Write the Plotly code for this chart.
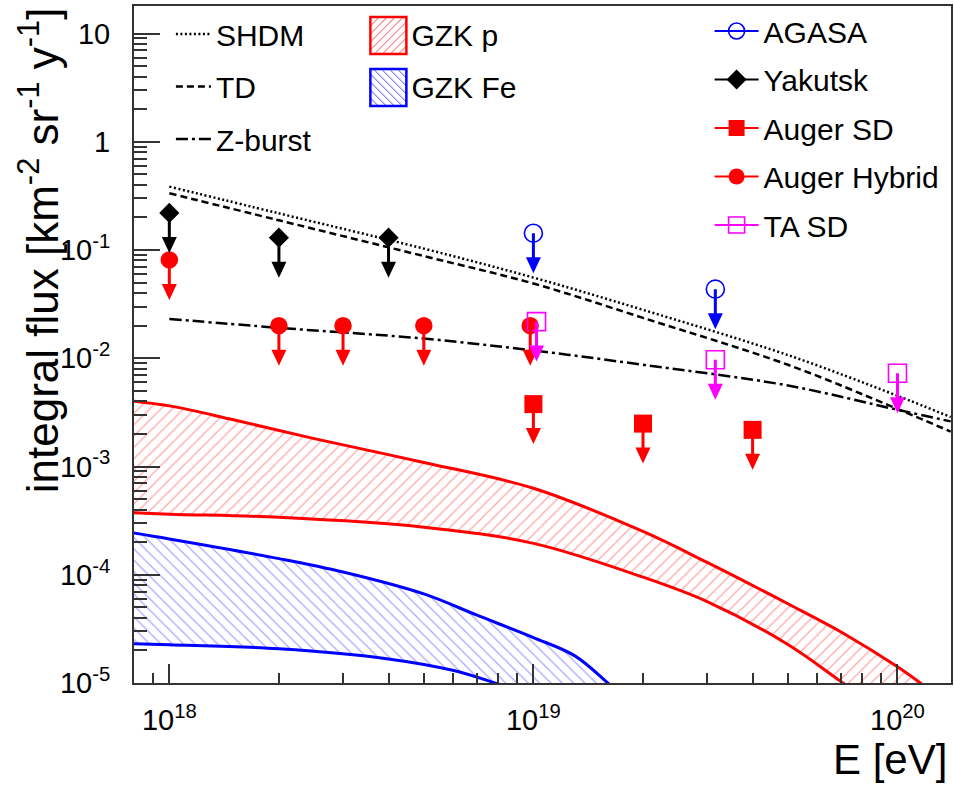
import numpy as np
import plotly.graph_objects as go

# ---------------------------------------------------------------------------
# Model predictions for the integral photon flux  [km^-2 sr^-1 y^-1]
# ---------------------------------------------------------------------------
E_MODEL = [1e18, 2e18, 5e18, 1e19, 2e19, 5e19, 1e20, 1.4e20]
SHDM = [0.385, 0.218, 0.103, 0.0556, 0.0280, 0.0107, 0.0045, 0.00286]
TD = [0.334, 0.188, 0.0879, 0.049, 0.0236, 0.0087, 0.0034, 0.0021]
ZBURST = [0.0231, 0.0191, 0.0152, 0.0118, 0.0087, 0.0056, 0.00334, 0.00261]

# GZK photon bands (proton / iron primaries): upper and lower edges
GZK_P_UP_E = [7e17, 1e18, 1.5e18, 2.5e18, 5e18, 1e19, 2e19, 3e19, 5e19, 7e19, 1e20, 1.2e20, 1.5e20]
GZK_P_UP_F = [4.2e-3, 3.63e-3, 2.70e-3, 1.81e-3, 1.09e-3, 6.3e-4, 2.51e-4, 1.30e-4,
              5.4e-5, 2.96e-5, 1.41e-5, 9.1e-6, 5.1e-6]
GZK_P_LO_E = [7e17, 1e18, 2e18, 5e18, 1e19, 2e19, 3e19, 5e19, 7e19, 1e20]
GZK_P_LO_F = [3.8e-4, 3.63e-4, 3.39e-4, 2.75e-4, 1.95e-4, 9.5e-5, 5.65e-5, 2.27e-5, 1.03e-5, 4.4e-6]

GZK_FE_UP_E = [7e17, 1e18, 2e18, 3e18, 5e18, 7e18, 1e19, 1.3e19, 1.6e19, 2e19]
GZK_FE_UP_F = [2.61e-4, 2.14e-4, 1.41e-4, 1.06e-4, 6.65e-5, 4.23e-5, 2.63e-5, 1.78e-5, 1.0e-5, 5.0e-6]
GZK_FE_LO_E = [7e17, 1e18, 2e18, 4e18, 6e18, 8e18, 1e19]
GZK_FE_LO_F = [2.34e-5, 2.26e-5, 2.07e-5, 1.67e-5, 1.31e-5, 9.8e-6, 7.6e-6]

# ---------------------------------------------------------------------------
# Experimental upper limits
# ---------------------------------------------------------------------------
AGASA_E = [1e19, 3.16e19]
AGASA_F = [0.143, 0.0435]
YAKUTSK_E = [1e18, 2e18, 4e18]
YAKUTSK_F = [0.22, 0.13, 0.13]
AUGER_SD_E = [1e19, 2e19, 4e19]
AUGER_SD_F = [0.00377, 0.00249, 0.00218]
AUGER_HYB_E = [1e18, 2e18, 3e18, 5e18, 0.98e19]
AUGER_HYB_F = [0.081, 0.02, 0.02, 0.02, 0.02]
TA_SD_E = [1.02e19, 3.16e19, 1e20]
TA_SD_F = [0.0218, 0.0097, 0.00727]

# Axis ticks
X_TICK_VALS = [1e18, 1e19, 1e20]
X_TICK_LABELS = ["10<sup>18</sup>", "10<sup>19</sup>", "10<sup>20</sup>"]
Y_TICK_VALS = [1e-5, 1e-4, 1e-3, 1e-2, 1e-1, 1, 10]
Y_TICK_LABELS = ["10<sup>-5</sup>", "10<sup>-4</sup>", "10<sup>-3</sup>", "10<sup>-2</sup>",
                 "10<sup>-1</sup>", "1", "10"]

# ---------------------------------------------------------------------------
FONT = "Liberation Sans, Arial, Helvetica, sans-serif"
W, H = 954, 785
M_L, M_R, M_T, M_B = 134, 1, 6, 102
PLOT_W, PLOT_H = W - M_L - M_R, H - M_T - M_B
X_RANGE_LOG = [17.903, 20.147]
Y_RANGE_LOG = [-5.0, 1.254]
AXIS_COLOR = "#333333"

RED, BLUE, MAGENTA, BLACK = "#ff0000", "#0000ff", "#ff00ff", "#000000"
HATCH_RED, HATCH_BLUE = "rgba(255,0,0,0.7)", "rgba(0,0,255,0.7)"


def px_to_paper_x(px):
    return (px - M_L) / PLOT_W


def px_to_paper_y(py):
    return (H - M_B - py) / PLOT_H


fig = go.Figure()

# hatched GZK bands: lower edge first, upper edge filled down to it
for lo_e, lo_f, up_e, up_f, color, hatch, shape in [
        (GZK_P_LO_E, GZK_P_LO_F, GZK_P_UP_E, GZK_P_UP_F, RED, HATCH_RED, "/"),
        (GZK_FE_LO_E, GZK_FE_LO_F, GZK_FE_UP_E, GZK_FE_UP_F, BLUE, HATCH_BLUE, "\\")]:
    fig.add_trace(go.Scatter(
        x=lo_e, y=lo_f, mode="lines", showlegend=False, hoverinfo="skip",
        line=dict(color=color, width=3, shape="spline", smoothing=1.0)))
    fig.add_trace(go.Scatter(
        x=up_e, y=up_f, mode="lines", showlegend=False, hoverinfo="skip",
        fill="tonexty", fillcolor="rgba(255,255,255,0)",
        fillpattern=dict(shape=shape, fgcolor=hatch, bgcolor="rgba(255,255,255,0)",
                         size=8, solidity=0.15),
        line=dict(color=color, width=3, shape="spline", smoothing=1.0)))

# top-down model curves
for name, flux, dash in [("SHDM", SHDM, "2px,2.5px"),
                         ("TD", TD, "7px,4px"),
                         ("Z-burst", ZBURST, "12px,4px,3px,4px")]:
    fig.add_trace(go.Scatter(
        x=E_MODEL, y=flux, mode="lines", name=name,
        line=dict(color=BLACK, width=2.5, dash=dash, shape="spline", smoothing=1.0),
        legend="legend", legendgroup=name))

# legend entries of the GZK bands (the boxed hatch symbols are drawn as shapes)
for name in ["GZK p", "GZK Fe"]:
    fig.add_trace(go.Scatter(
        x=[None], y=[None], mode="markers", name=name, legend="legend2", legendgroup=name,
        marker=dict(size=1, color="rgba(0,0,0,0)")))

# experimental limits
EXPERIMENTS = [
    ("AGASA", AGASA_E, AGASA_F, BLUE, "circle-open", 18, 1.6),
    ("Yakutsk", YAKUTSK_E, YAKUTSK_F, BLACK, "diamond", 15.5, 0),
    ("Auger SD", AUGER_SD_E, AUGER_SD_F, RED, "square", 18, 0),
    ("Auger Hybrid", AUGER_HYB_E, AUGER_HYB_F, RED, "circle", 17.5, 0),
    ("TA SD", TA_SD_E, TA_SD_F, MAGENTA, "square-open", 18, 1.6),
]

# downward arrow glyph in pixels relative to the marker centre (y up)
ARROW_LEN, HEAD_LEN, HEAD_HALF, SHAFT_HALF = 40, 16, 7.5, 1.5
NECK = -(ARROW_LEN - HEAD_LEN)
ARROW_PATH = (f"M{-SHAFT_HALF},0 L{SHAFT_HALF},0 L{SHAFT_HALF},{NECK} "
              f"L{HEAD_HALF},{NECK} L0,{-ARROW_LEN} "
              f"L{-HEAD_HALF},{NECK} L{-SHAFT_HALF},{NECK} Z")

shapes = []
for name, e, f, color, symbol, size, lw in EXPERIMENTS:
    fig.add_trace(go.Scatter(
        x=e, y=f, mode="markers", name=name, showlegend=False, legendgroup=name,
        marker=dict(symbol=symbol, size=size, color=color,
                    line=dict(color=color, width=lw))))
    # legend entry with the horizontal bar through the marker
    fig.add_trace(go.Scatter(
        x=[None], y=[None], mode="lines+markers", name=name, legend="legend3",
        legendgroup=name,
        marker=dict(symbol=symbol, size=size, color=color, line=dict(color=color, width=lw)),
        line=dict(color=color, width=2)))
    # upper-limit arrows anchored at each point (shape positions take data values)
    for ei, fi in zip(e, f):
        shapes.append(dict(
            type="path", xref="x", yref="y", xsizemode="pixel", ysizemode="pixel",
            xanchor=ei, yanchor=fi, path=ARROW_PATH,
            fillcolor=color, line=dict(width=0), layer="above"))


# legend boxes for the hatched bands
def hatch_path(half_w, half_h, step, rising):
    segs = []
    c = -(half_w + half_h)
    while c <= half_w + half_h:
        if rising:      # y = x + c
            x_lo, x_hi = max(-half_w, -half_h - c), min(half_w, half_h - c)
            if x_lo < x_hi:
                segs.append(f"M{x_lo:.2f},{x_lo + c:.2f} L{x_hi:.2f},{x_hi + c:.2f}")
        else:           # y = -x + c
            x_lo, x_hi = max(-half_w, c - half_h), min(half_w, c + half_h)
            if x_lo < x_hi:
                segs.append(f"M{x_lo:.2f},{c - x_lo:.2f} L{x_hi:.2f},{c - x_hi:.2f}")
        c += step
    return " ".join(segs)


BOX_HALF_W, BOX_HALF_H = 18, 18.5
for cy, color, hatch, rising in [(35.5, RED, HATCH_RED, True), (87.5, BLUE, HATCH_BLUE, False)]:
    common = dict(type="path", xref="paper", yref="paper", xsizemode="pixel",
                  ysizemode="pixel", xanchor=px_to_paper_x(389), yanchor=px_to_paper_y(cy),
                  layer="above")
    shapes.append(dict(**common, path=hatch_path(BOX_HALF_W, BOX_HALF_H, 8, rising),
                       line=dict(color=hatch, width=1)))
    shapes.append(dict(**common,
                       path=f"M{-BOX_HALF_W},{-BOX_HALF_H} H{BOX_HALF_W} V{BOX_HALF_H} "
                            f"H{-BOX_HALF_W} Z",
                       line=dict(color=color, width=2.5)))

# axis titles
annotations = [
    dict(text="integral flux [km<sup>-2</sup> sr<sup>-1</sup> y<sup>-1</sup>]",
         xref="paper", yref="paper", x=px_to_paper_x(38), y=px_to_paper_y(250),
         xanchor="center", yanchor="middle", textangle=-90, showarrow=False,
         font=dict(family=FONT, size=44, color=BLACK)),
    dict(text="E [eV]", xref="paper", yref="paper", x=px_to_paper_x(950), y=px_to_paper_y(735),
         xanchor="right", yanchor="top", showarrow=False, borderpad=0,
         font=dict(family=FONT, size=42, color=BLACK)),
]

# minor ticks at 2..9 of every decade inside the ranges
X_MINOR = [k * 10.0 ** d for d in (17, 18, 19, 20) for k in range(2, 10)
           if X_RANGE_LOG[0] < np.log10(k * 10.0 ** d) < X_RANGE_LOG[1]]
Y_MINOR = [k * 10.0 ** d for d in range(-5, 2) for k in range(2, 10)
           if Y_RANGE_LOG[0] < np.log10(k * 10.0 ** d) < Y_RANGE_LOG[1]]

axis_common = dict(
    type="log", showline=True, linecolor=AXIS_COLOR, linewidth=2, mirror=True,
    ticks="inside", tickwidth=1.5, tickcolor=AXIS_COLOR, tickmode="array",
    showgrid=False, zeroline=False, tickfont=dict(family=FONT, size=29, color=BLACK),
)

legend_common = dict(xanchor="left", yanchor="top", bgcolor="rgba(0,0,0,0)",
                     font=dict(family=FONT, size=30, color=BLACK), traceorder="grouped")

fig.update_layout(
    width=W, height=H,
    margin=dict(l=M_L, r=M_R, t=M_T, b=M_B),
    paper_bgcolor="white", plot_bgcolor="white",
    font=dict(family=FONT, size=28, color=BLACK),
    xaxis=dict(**axis_common, range=X_RANGE_LOG, tickvals=X_TICK_VALS, ticktext=X_TICK_LABELS,
               ticklen=19, ticklabelstandoff=10,
               minor=dict(tickmode="array", tickvals=X_MINOR, ticks="inside", ticklen=10,
                          tickwidth=1.5, tickcolor=AXIS_COLOR, showgrid=False)),
    yaxis=dict(**axis_common, range=Y_RANGE_LOG, tickvals=Y_TICK_VALS, ticktext=Y_TICK_LABELS,
               ticklen=26, ticklabelstandoff=16,
               minor=dict(tickmode="array", tickvals=Y_MINOR, ticks="inside", ticklen=13,
                          tickwidth=1.5, tickcolor=AXIS_COLOR, showgrid=False)),
    showlegend=True,
    legend=dict(**legend_common, x=px_to_paper_x(171), y=px_to_paper_y(8),
                itemwidth=35, tracegroupgap=10.5),
    legend2=dict(**legend_common, x=px_to_paper_x(366), y=px_to_paper_y(8),
                 itemwidth=36, tracegroupgap=10),
    legend3=dict(**legend_common, x=px_to_paper_x(711), y=px_to_paper_y(5),
                 itemwidth=44, tracegroupgap=6.5),
    shapes=shapes,
    annotations=annotations,
)

fig.write_html("out.html")
